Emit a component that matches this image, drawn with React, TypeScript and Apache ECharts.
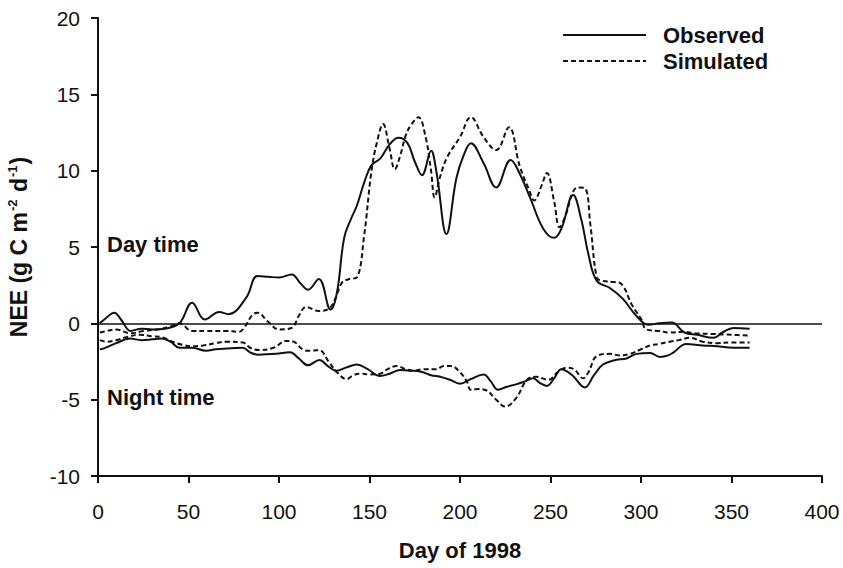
import React, { useEffect, useRef } from "react";
import * as echarts from "echarts";

// Day of year, NEE (g C m-2 d-1)
const obsDay: [number, number][] = [
  [1, 0], [4, 0.3], [9, 0.7], [13, 0.2], [18, -0.5], [24, -0.35], [30, -0.4], [37, -0.35], [45, 0],
  [52, 1.35], [59, 0.25], [67, 0.75], [72, 0.6], [82, 1.7], [88, 3.1], [94, 3.05], [100, 3.0],
  [107, 3.2], [112, 2.6], [116, 2.2], [122, 2.9], [128.5, 0.9], [132, 2.0], [136, 5.6], [140, 6.9],
  [143, 7.7], [147, 9.2], [151, 10.35], [156, 10.8], [161, 11.7], [166, 12.15], [171, 11.8],
  [175, 10.6], [179, 9.7], [184, 11.3], [187, 9.9], [192.5, 5.85], [198, 9.5], [202, 11.0],
  [206, 11.8], [213, 10.5], [220, 8.9], [228, 10.7], [233, 9.8], [239, 8.15], [246, 6.2],
  [252, 5.6], [256, 6.2], [262.5, 8.4], [267, 6.8], [271, 4.5], [275.5, 2.8], [283, 2.3],
  [290, 1.6], [297, 0.55], [304, -0.1], [310, 0], [317, 0.05], [324, -0.6], [331, -0.75],
  [340, -0.95], [345, -0.6], [351, -0.3], [360, -0.35],
];

const simDay: [number, number][] = [
  [1, -0.6], [5, -0.5], [10, -0.4], [18, -0.65], [25, -0.5], [33, -0.4], [40, -0.2], [45, 0],
  [52, -0.5], [60, -0.5], [70, -0.5], [78, -0.55], [81, -0.25], [85, 0.5], [88, 0.7], [94, 0.1],
  [100, -0.4], [107, -0.3], [111, 0.5], [115, 1.07], [122, 0.8], [128, 1.0], [131, 1.6],
  [135, 2.7], [139, 2.9], [143, 3.0], [147, 5.7], [151, 9.9], [154, 11.8], [157.5, 13.05],
  [161, 11.5], [164, 10.1], [167, 11.0], [170, 12.3], [173, 13.0], [177, 13.5], [181, 12.2],
  [184, 10.0], [186, 8.25], [189, 9.6], [193, 10.9], [200, 12.2], [206, 13.5], [213, 12.2],
  [220, 11.35], [227, 12.85], [233, 10.3], [238, 8.8], [241, 8.05], [245, 9.0], [248, 9.85],
  [252, 8.0], [255, 6.3], [259, 7.3], [262, 8.5], [265, 8.9], [269, 8.85], [272, 6.5],
  [275.5, 3.0], [278, 2.8], [285, 2.7], [289, 2.6], [295, 1.2], [300, 0.3], [303, -0.4],
  [310, -0.5], [316, -0.6], [323, -0.55], [330, -0.65], [340, -0.7], [350, -0.75], [360, -0.8],
];

const obsNight: [number, number][] = [
  [1, -1.7], [3, -1.66], [10, -1.3], [17.7, -1.0], [24, -1.1], [30, -1.05], [35, -1.0], [40, -1.2],
  [45, -1.6], [52, -1.6], [59.7, -1.8], [65, -1.7], [70.7, -1.65], [80, -1.6], [84, -1.9],
  [88.4, -2.05], [98.5, -2.0], [106, -1.9], [111, -2.3], [116, -2.75], [122.4, -2.4], [127, -2.8],
  [131.8, -3.1], [137, -2.9], [143, -2.7], [149, -3.0], [155.8, -3.45], [161, -3.3], [167, -3.05],
  [172, -3.1], [178, -3.15], [184, -3.4], [189, -3.5], [194.5, -3.7], [200, -3.95], [206, -3.65],
  [213, -3.35], [217, -3.8], [221, -4.35], [226, -4.15], [231, -4.0], [236, -3.8], [240.5, -3.6],
  [244, -3.9], [248, -4.1], [252, -3.6], [256, -3.0], [262, -3.4], [269, -4.2], [274, -3.4],
  [279, -2.7], [286, -2.4], [292, -2.3], [297.6, -2.0], [305, -1.95], [310.5, -2.2], [315, -2.1],
  [318, -1.9], [325, -1.35], [334, -1.45], [342, -1.5], [351, -1.6], [360, -1.6],
];

const simNight: [number, number][] = [
  [1, -1.1], [5, -1.2], [10, -1.1], [16, -0.9], [23, -0.75], [30, -0.85], [35, -0.9], [41, -1.2],
  [46.5, -1.4], [52, -1.5], [58, -1.45], [65, -1.3], [71, -1.2], [80, -1.25], [84, -1.6],
  [89, -1.75], [97, -1.6], [104, -1.15], [108, -1.2], [113, -1.7], [117, -1.8], [122, -1.75],
  [127.7, -2.55], [132, -3.2], [137.4, -3.65], [141, -3.4], [144.7, -3.3], [150, -3.35],
  [155.8, -3.3], [160, -3.0], [165, -2.8], [170, -3.0], [174, -3.1], [180, -3.0], [187, -3.0],
  [191, -2.8], [195, -2.8], [200, -3.2], [203.7, -3.8], [206, -4.35], [210, -4.3], [214.7, -4.4],
  [220, -5.0], [225, -5.45], [231, -4.9], [237, -3.7], [242, -3.5], [249, -3.7], [254, -3.2],
  [259, -2.9], [263, -3.0], [268, -3.6], [271, -3.2], [275.5, -2.15], [283, -2.0], [288, -2.1],
  [294, -2.0], [300, -1.7], [305, -1.45], [310, -1.35], [316, -1.2], [321, -1.1], [327, -0.95],
  [334, -1.2], [342, -1.3], [350, -1.25], [360, -1.25],
];

const legendNames = ["Observed", "Simulated"];
const xTitle = "Day of 1998";
const annotations = ["Day time", "Night time"];

const FONT = "'Liberation Sans', Arial, Helvetica, sans-serif";
const INK = "#111";

export default function App() {
  const ref = useRef<HTMLDivElement>(null);

  useEffect(() => {
    if (!ref.current) return;
    const chart = echarts.init(ref.current, undefined, { renderer: "svg" });

    const solid = { color: INK, width: 2, type: "solid" as const };
    const dashed = { color: INK, width: 2, type: [5, 3] as any };

    chart.setOption({
      animation: false,
      backgroundColor: "#fff",
      textStyle: { fontFamily: FONT, color: INK },
      grid: { left: 98, right: 21, top: 18, bottom: 92, containLabel: false, outerBoundsMode: "none" },
      legend: {
        data: legendNames,
        orient: "vertical",
        left: 557,
        top: 19,
        itemWidth: 83,
        itemHeight: 14,
        itemGap: 4,
        itemStyle: { opacity: 0 },
        textStyle: { fontFamily: FONT, fontSize: 22, fontWeight: "bold", color: INK, padding: [0, 0, 0, 12] },
        selectedMode: false,
      },
      xAxis: {
        type: "value",
        min: 0,
        max: 400,
        interval: 50,
        name: xTitle,
        nameLocation: "middle",
        nameGap: 63,
        nameTextStyle: { fontFamily: FONT, fontSize: 22, fontWeight: "bold", color: INK },
        axisLine: { onZero: false, lineStyle: { color: INK, width: 2 } },
        axisTick: { show: true, length: 7, lineStyle: { color: INK, width: 2 } },
        axisLabel: { margin: 25, fontSize: 21, color: INK, fontFamily: FONT },
        splitLine: { show: false },
      },
      yAxis: {
        type: "value",
        min: -10,
        max: 20,
        interval: 5,
        name: "{t|NEE (g C m}{s|-2}{t| d}{s|-1}{t|)}",
        nameLocation: "middle",
        nameGap: 66,
        nameTextStyle: {
          rich: {
            t: { fontFamily: FONT, fontSize: 23, fontWeight: "bold", color: INK, lineHeight: 26 },
            s: { fontFamily: FONT, fontSize: 13, fontWeight: "bold", color: INK, lineHeight: 14, verticalAlign: "top", padding: [0, 1, 0, 1] },
          },
        },
        axisLine: { onZero: false, lineStyle: { color: INK, width: 2 } },
        axisTick: { show: true, length: 7, lineStyle: { color: INK, width: 2 } },
        axisLabel: { margin: 18, fontSize: 21, color: INK, fontFamily: FONT },
        splitLine: { show: false },
      },
      graphic: [
        {
          type: "text",
          x: 107,
          y: 244,
          style: { text: annotations[0], fontFamily: FONT, fontSize: 22, fontWeight: "bold", fill: INK, verticalAlign: "middle" },
        },
        {
          type: "text",
          x: 107,
          y: 397,
          style: { text: annotations[1], fontFamily: FONT, fontSize: 22, fontWeight: "bold", fill: INK, verticalAlign: "middle" },
        },
      ],
      series: [
        {
          name: legendNames[0],
          type: "line",
          data: obsDay,
          smooth: 0.4,
          symbol: "none",
          lineStyle: solid,
          itemStyle: { color: INK },
          z: 3,
          markLine: {
            silent: true,
            symbol: ["none", "none"],
            label: { show: false },
            lineStyle: { color: INK, width: 1.5, type: "solid" },
            data: [{ yAxis: 0 }],
          },
        },
        {
          name: legendNames[1],
          type: "line",
          data: simDay,
          smooth: 0.4,
          symbol: "none",
          lineStyle: dashed,
          itemStyle: { color: INK },
          z: 2,
        },
        {
          name: legendNames[0],
          type: "line",
          data: obsNight,
          smooth: 0.4,
          symbol: "none",
          lineStyle: solid,
          itemStyle: { color: INK },
          z: 3,
        },
        {
          name: legendNames[1],
          type: "line",
          data: simNight,
          smooth: 0.4,
          symbol: "none",
          lineStyle: dashed,
          itemStyle: { color: INK },
          z: 2,
        },
      ],
    });

    return () => chart.dispose();
  }, []);

  return (
    <div
      ref={ref}
      style={{ position: "fixed", left: 0, top: 0, width: 843, height: 568, background: "#fff" }}
    />
  );
}
